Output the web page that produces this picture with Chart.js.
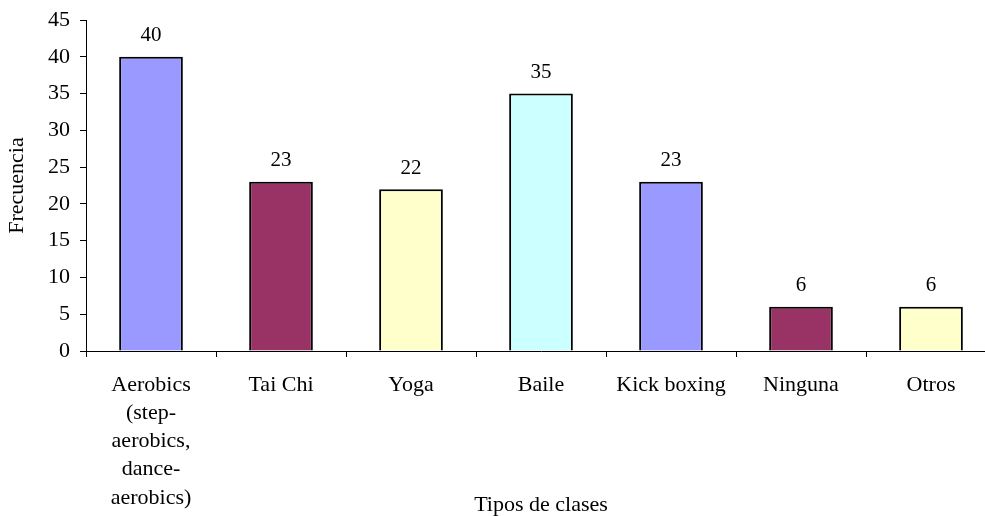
<!DOCTYPE html>
<html lang="es">
<head>
  <meta charset="UTF-8" />
  <title>Tipos de clases – Frecuencia</title>
  <script src="https://cdn.jsdelivr.net/npm/chart.js"></script>
  <style>
    html, body {
      margin: 0;
      padding: 0;
      background: #ffffff;
      overflow: hidden;
    }
    #grafico {
      display: block;
    }
  </style>
</head>
<body>
  <canvas id="grafico" width="1000" height="516"></canvas>

  <script>
    const categorias = [
      ['Aerobics', '(step-', 'aerobics,', 'dance-', 'aerobics)'],
      'Tai Chi',
      'Yoga',
      'Baile',
      'Kick boxing',
      'Ninguna',
      'Otros'
    ];
    const frecuencias = [40, 23, 22, 35, 23, 6, 6];
    const colores = ['#9999FF', '#993366', '#FFFFCC', '#CCFFFF', '#9999FF', '#993366', '#FFFFCC'];
    const ticksY = [0, 5, 10, 15, 20, 25, 30, 35, 40, 45];

    const fuente = 'Liberation Serif, Times New Roman, serif';

    // etiquetas con el valor encima de cada barra
    const etiquetasValor = {
      id: 'etiquetasValor',
      afterDatasetsDraw(chart) {
        const ctx = chart.ctx;
        const meta = chart.getDatasetMeta(0);
        ctx.save();
        ctx.font = '21px ' + fuente;
        ctx.fillStyle = '#000';
        ctx.textAlign = 'center';
        ctx.textBaseline = 'middle';
        meta.data.forEach((barra, i) => {
          ctx.fillText(String(frecuencias[i]), barra.x, barra.y - 21);
        });
        ctx.restore();
      }
    };

    new Chart(document.getElementById('grafico'), {
      type: 'bar',
      data: {
        labels: categorias,
        datasets: [{
          data: frecuencias,
          backgroundColor: colores,
          borderColor: '#000',
          borderWidth: 2,
          barPercentage: 0.49,
          categoryPercentage: 1
        }]
      },
      options: {
        responsive: false,
        animation: false,
        layout: { padding: { top: 20, right: 4, left: 0, bottom: 0 } },
        plugins: {
          legend: { display: false },
          tooltip: { enabled: false }
        },
        scales: {
          x: {
            grid: {
              display: true,
              drawOnChartArea: false,
              drawTicks: true,
              tickLength: 6,
              color: '#000',
              offset: true
            },
            border: { display: true, color: '#000', width: 1 },
            ticks: {
              color: '#000',
              font: { family: fuente, size: 22, lineHeight: 1.28 },
              padding: 14,
              maxRotation: 0,
              autoSkip: false
            },
            title: {
              display: true,
              text: 'Tipos de clases',
              color: '#000',
              font: { family: fuente, size: 22, lineHeight: 1.0 },
              padding: { top: 0, bottom: 0 }
            },
            afterFit(scale) {
              scale.height = 165;
              scale.paddingLeft = 0;
              scale.paddingRight = 0;
            }
          },
          y: {
            min: 0,
            max: 45,
            afterBuildTicks(scale) {
              scale.ticks = ticksY.map(v => ({ value: v }));
            },
            grid: {
              display: true,
              drawOnChartArea: false,
              drawTicks: true,
              tickLength: 6,
              color: '#000'
            },
            border: { display: true, color: '#000', width: 1 },
            ticks: {
              color: '#000',
              font: { family: fuente, size: 22 },
              padding: 10
            },
            title: {
              display: true,
              text: 'Frecuencia',
              color: '#000',
              font: { family: fuente, size: 22, lineHeight: 1.2 },
              padding: { top: 4, bottom: 0 }
            },
            afterFit(scale) {
              scale.width = 86;
              scale.paddingTop = 0;
              scale.paddingBottom = 0;
            }
          }
        }
      },
      plugins: [etiquetasValor]
    });
  </script>
</body>
</html>
